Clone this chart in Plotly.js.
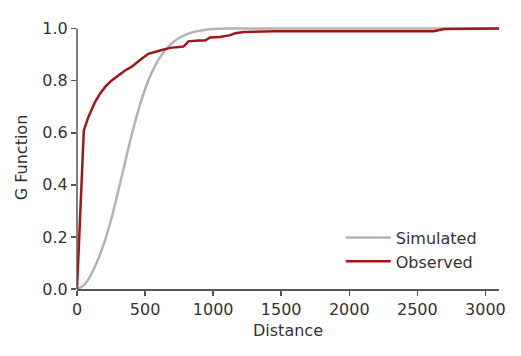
<!DOCTYPE html>
<html>
<head>
<meta charset="utf-8">
<script src="https://cdn.plot.ly/plotly-3.0.1.min.js"></script>
<style>html,body{margin:0;padding:0;background:#fff;}#chart{width:521px;height:356px;}</style>
</head>
<body>
<div id="chart"></div>
<script>
const simDistance = [0, 50, 100, 150, 200, 250, 300, 350, 400, 450, 500, 550, 600, 650, 700, 750, 800, 850, 900, 950, 1000, 1100, 1500, 2000, 2500, 3100];
const simG = [0, 0.014, 0.052, 0.108, 0.178, 0.265, 0.37, 0.48, 0.588, 0.685, 0.767, 0.832, 0.882, 0.918, 0.945, 0.964, 0.977, 0.986, 0.992, 0.996, 0.998, 1.0, 1.0, 1.0, 1.0, 1.0];

const obsDistance = [0, 50, 83, 132, 169, 210, 255, 300, 353, 400, 426, 470, 524, 570, 610, 684, 782, 800, 818, 892, 941, 978, 1050, 1125, 1162, 1223, 1300, 1443, 2000, 2620, 2700, 3100];
const obsG = [0, 0.609, 0.660, 0.718, 0.750, 0.778, 0.801, 0.820, 0.839, 0.853, 0.865, 0.882, 0.903, 0.911, 0.916, 0.926, 0.931, 0.940, 0.951, 0.954, 0.954, 0.966, 0.968, 0.975, 0.982, 0.987, 0.988, 0.990, 0.990, 0.990, 0.998, 1.0];

const xTicks = [0, 500, 1000, 1500, 2000, 2500, 3000];
const yTicks = [0, 0.2, 0.4, 0.6, 0.8, 1.0];

const FONT = 'DejaVu Sans, Arial, sans-serif';
const TXT = '#333333';
const AX = '#555555';

const traces = [
  {x: simDistance, y: simG, name: 'Simulated', type: 'scatter', mode: 'lines',
   line: {color: '#b3b3b3', width: 2.5, shape: 'spline', smoothing: 1}},
  {x: obsDistance, y: obsG, name: 'Observed', type: 'scatter', mode: 'lines',
   line: {color: '#a0161b', width: 2.5}}
];

const layout = {
  width: 521, height: 356,
  margin: {l: 77, r: 22, t: 26, b: 67},
  paper_bgcolor: '#ffffff', plot_bgcolor: '#ffffff',
  font: {family: FONT, size: 16, color: TXT},
  showlegend: true,
  legend: {x: 0.625, y: 0.26, xanchor: 'left', yanchor: 'top', bgcolor: 'rgba(0,0,0,0)',
           itemwidth: 45,
           font: {family: FONT, size: 16, color: TXT}, tracegroupgap: 0},
  xaxis: {range: [0, 3100], tickvals: xTicks, ticktext: xTicks.map(String),
          showline: true, linecolor: AX, linewidth: 1.5, ticks: 'outside', ticklen: 5,
          tickcolor: AX, tickwidth: 1.5, showgrid: false, zeroline: false,
          tickfont: {family: FONT, size: 16, color: TXT},
          title: {text: 'Distance', font: {family: FONT, size: 16, color: TXT}, standoff: 7}},
  yaxis: {range: [0, 1.01], tickvals: yTicks, ticktext: yTicks.map(v => v.toFixed(1)),
          showline: false, ticks: 'outside', ticklen: 5,
          tickcolor: AX, tickwidth: 1.5, showgrid: false, zeroline: false,
          tickfont: {family: FONT, size: 16, color: TXT},
          title: {text: 'G Function', font: {family: FONT, size: 16, color: TXT}, standoff: 10}},
  shapes: [{type: 'line', xref: 'paper', yref: 'y', x0: 0, x1: 0, y0: 0, y1: 1,
            line: {color: AX, width: 1.5}, layer: 'above'}]
};

Plotly.newPlot('chart', traces, layout, {displayModeBar: false, staticPlot: true});
</script>
</body>
</html>
